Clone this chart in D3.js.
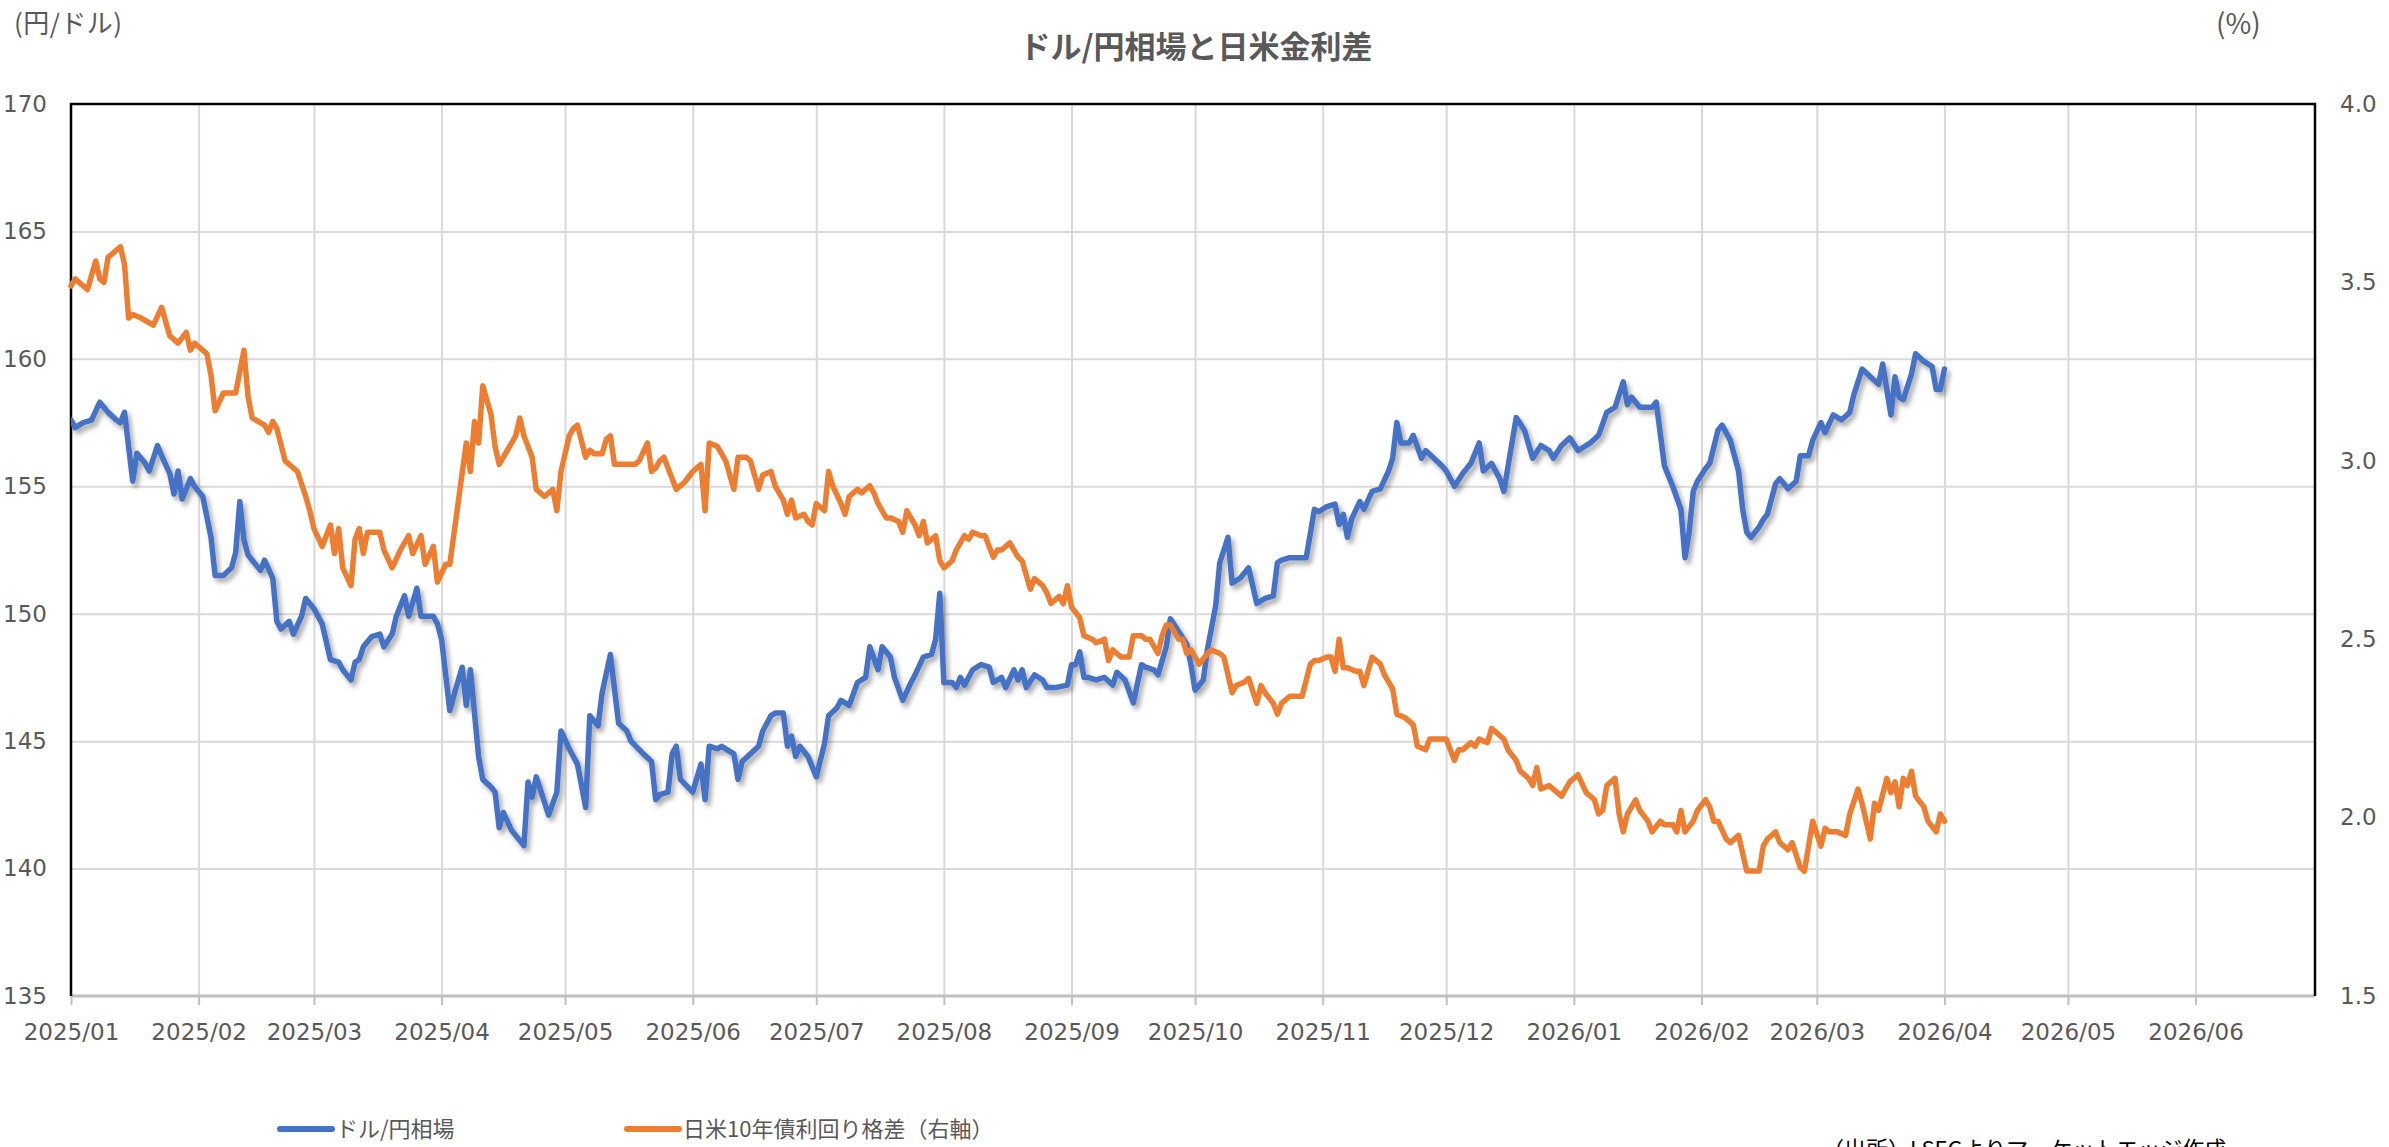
<!DOCTYPE html>
<html>
<head>
<meta charset="utf-8">
<script src="https://cdn.jsdelivr.net/npm/d3@7"></script>
<style>
  html, body { margin: 0; padding: 0; background: #fff; overflow: hidden; }
  svg { display: block; }
</style>
</head>
<body>
<div id="chart"></div>
<script>
"use strict";
const W = 2389, H = 1147; // px
const margin = {top: 104, right: 74, bottom: 151, left: 71}; // px

const TITLE = "ドル/円相場と日米金利差";
const LEFT_UNIT = "(円/ドル)";
const RIGHT_UNIT = "(%)";
const SERIES_NAMES = ["ドル/円相場", "日米10年債利回り格差（右軸）"];
const SOURCE = "（出所）LSEGよりマーケットエッジ作成";

const leftTicks = [135, 140, 145, 150, 155, 160, 165, 170];
const rightTicks = [1.5, 2.0, 2.5, 3.0, 3.5, 4.0];
const xStart = "2025-01-01", xEnd = "2026-06-30";

// ドル/円相場
const usdDates = [
  "2025-01-01","2025-01-02","2025-01-04","2025-01-06","2025-01-08","2025-01-10","2025-01-12","2025-01-13","2025-01-14","2025-01-16",
  "2025-01-17","2025-01-19","2025-01-20","2025-01-22","2025-01-23","2025-01-25","2025-01-26","2025-01-27","2025-01-28","2025-01-30",
  "2025-01-31","2025-02-02","2025-02-04","2025-02-05","2025-02-07","2025-02-09","2025-02-10","2025-02-11","2025-02-12","2025-02-13",
  "2025-02-16","2025-02-17","2025-02-19","2025-02-20","2025-02-21","2025-02-23","2025-02-24","2025-02-26","2025-02-27","2025-03-01",
  "2025-03-03","2025-03-05","2025-03-07","2025-03-08","2025-03-10","2025-03-11","2025-03-12","2025-03-13","2025-03-15","2025-03-17",
  "2025-03-18","2025-03-20","2025-03-21","2025-03-23","2025-03-24","2025-03-26","2025-03-27","2025-03-30","2025-03-31","2025-04-01",
  "2025-04-03","2025-04-04","2025-04-06","2025-04-07","2025-04-08","2025-04-10","2025-04-11","2025-04-13","2025-04-14","2025-04-15",
  "2025-04-16","2025-04-18","2025-04-21","2025-04-22","2025-04-23","2025-04-24","2025-04-25","2025-04-27","2025-04-29","2025-04-30",
  "2025-05-02","2025-05-04","2025-05-06","2025-05-07","2025-05-09","2025-05-10","2025-05-12","2025-05-14","2025-05-16","2025-05-17",
  "2025-05-20","2025-05-22","2025-05-23","2025-05-24","2025-05-26","2025-05-27","2025-05-28","2025-05-29","2025-06-01","2025-06-03",
  "2025-06-04","2025-06-05","2025-06-07","2025-06-08","2025-06-09","2025-06-11","2025-06-12","2025-06-13","2025-06-15","2025-06-17",
  "2025-06-18","2025-06-20","2025-06-21","2025-06-23","2025-06-24","2025-06-25","2025-06-26","2025-06-27","2025-06-29","2025-07-01",
  "2025-07-03","2025-07-04","2025-07-06","2025-07-07","2025-07-09","2025-07-11","2025-07-13","2025-07-14","2025-07-16","2025-07-17",
  "2025-07-19","2025-07-20","2025-07-22","2025-07-24","2025-07-25","2025-07-27","2025-07-29","2025-07-30","2025-07-31","2025-08-01",
  "2025-08-03","2025-08-04","2025-08-05","2025-08-06","2025-08-08","2025-08-10","2025-08-12","2025-08-13","2025-08-15","2025-08-16",
  "2025-08-18","2025-08-19","2025-08-20","2025-08-21","2025-08-23","2025-08-25","2025-08-26","2025-08-28","2025-08-31","2025-09-01",
  "2025-09-02","2025-09-03","2025-09-04","2025-09-05","2025-09-07","2025-09-09","2025-09-11","2025-09-12","2025-09-14","2025-09-16",
  "2025-09-18","2025-09-19","2025-09-21","2025-09-22","2025-09-24","2025-09-25","2025-09-27","2025-09-29","2025-09-30","2025-10-01",
  "2025-10-03","2025-10-04","2025-10-06","2025-10-07","2025-10-09","2025-10-10","2025-10-12","2025-10-14","2025-10-16","2025-10-18",
  "2025-10-20","2025-10-21","2025-10-22","2025-10-24","2025-10-27","2025-10-28","2025-10-30","2025-10-31","2025-11-02","2025-11-04",
  "2025-11-05","2025-11-06","2025-11-07","2025-11-08","2025-11-10","2025-11-11","2025-11-13","2025-11-15","2025-11-17","2025-11-18",
  "2025-11-19","2025-11-20","2025-11-22","2025-11-23","2025-11-25","2025-11-26","2025-11-28","2025-11-30","2025-12-01","2025-12-03",
  "2025-12-05","2025-12-07","2025-12-09","2025-12-10","2025-12-12","2025-12-14","2025-12-15","2025-12-18","2025-12-20","2025-12-22",
  "2025-12-24","2025-12-26","2025-12-27","2025-12-29","2025-12-31","2026-01-02","2026-01-05","2026-01-07","2026-01-09","2026-01-11",
  "2026-01-13","2026-01-14","2026-01-15","2026-01-17","2026-01-20","2026-01-21","2026-01-23","2026-01-25","2026-01-27","2026-01-28",
  "2026-01-29","2026-01-30","2026-01-31","2026-02-02","2026-02-03","2026-02-05","2026-02-06","2026-02-08","2026-02-10","2026-02-11",
  "2026-02-12","2026-02-13","2026-02-15","2026-02-16","2026-02-17","2026-02-19","2026-02-20","2026-02-22","2026-02-24","2026-02-25",
  "2026-02-27","2026-02-28","2026-03-02","2026-03-03","2026-03-05","2026-03-07","2026-03-09","2026-03-10","2026-03-12","2026-03-14",
  "2026-03-16","2026-03-17","2026-03-19","2026-03-20","2026-03-21","2026-03-22","2026-03-24","2026-03-25","2026-03-27","2026-03-29",
  "2026-03-30","2026-03-31","2026-04-01"
];
const usdValues = [
  157.6,157.3,157.5,157.6,158.3,157.9,157.6,157.5,157.9,155.2,
  156.3,155.9,155.6,156.6,156.2,155.5,154.7,155.6,154.5,155.3,
  155.0,154.6,153.0,151.5,151.5,151.8,152.4,154.4,152.9,152.3,
  151.7,152.1,151.4,149.7,149.4,149.7,149.2,149.9,150.6,150.2,
  149.6,148.2,148.1,147.8,147.4,148.1,148.2,148.7,149.1,149.2,
  148.7,149.2,149.9,150.7,149.9,151.0,149.9,149.9,149.6,149.0,
  146.2,146.8,147.9,146.4,147.8,144.4,143.5,143.2,143.0,141.6,
  142.2,141.5,140.9,143.4,142.8,143.6,143.1,142.1,143.0,145.4,
  144.7,144.1,142.4,146.0,145.6,146.9,148.4,145.7,145.4,145.0,
  144.5,144.2,142.7,142.9,143.0,144.5,144.8,143.5,143.0,144.1,
  142.7,144.8,144.7,144.8,144.7,144.5,143.5,144.2,144.5,144.8,
  145.4,146.0,146.1,146.1,144.8,145.2,144.4,144.8,144.4,143.6,
  144.9,146.0,146.3,146.6,146.4,147.3,147.5,148.7,147.8,148.7,
  148.3,147.5,146.6,147.3,147.6,148.3,148.4,149.0,150.8,147.3,
  147.3,147.1,147.5,147.2,147.8,148.0,147.9,147.3,147.5,147.1,
  147.8,147.4,147.8,147.1,147.6,147.4,147.1,147.1,147.2,148.0,
  148.0,148.5,147.5,147.5,147.4,147.5,147.2,147.7,147.4,146.5,
  148.0,147.9,147.8,147.6,148.7,149.8,149.3,148.8,148.0,147.0,
  147.4,148.6,150.3,152.0,153.0,151.2,151.4,151.8,150.4,150.6,
  150.7,152.0,152.1,152.2,152.2,152.2,154.1,154.0,154.2,154.3,
  153.5,153.9,153.0,153.7,154.4,154.1,154.8,154.9,155.6,156.1,
  157.5,156.7,156.7,157.0,156.1,156.4,156.1,155.8,155.6,155.0,
  155.5,155.9,156.7,155.6,155.9,155.3,154.8,157.7,157.2,156.1,
  156.6,156.4,156.1,156.6,156.9,156.4,156.7,157.0,157.9,158.1,
  159.1,158.2,158.5,158.1,158.1,158.3,155.8,155.0,154.1,152.2,
  153.2,154.8,155.2,155.7,155.9,157.2,157.4,156.8,155.6,154.1,
  153.2,153.0,153.4,153.7,153.9,155.1,155.3,154.9,155.2,156.2,
  156.2,156.8,157.5,157.1,157.8,157.6,157.9,158.6,159.6,159.3,
  159.0,159.8,157.8,159.3,158.5,158.4,159.4,160.2,159.9,159.7,
  158.8,158.8,159.6
];

// 日米10年債利回り格差（右軸）
const spreadDates = [
  "2025-01-01","2025-01-02","2025-01-05","2025-01-07","2025-01-08","2025-01-09","2025-01-10","2025-01-13","2025-01-14","2025-01-15",
  "2025-01-16","2025-01-18","2025-01-21","2025-01-23","2025-01-25","2025-01-27","2025-01-29","2025-01-30","2025-01-31","2025-02-03",
  "2025-02-04","2025-02-05","2025-02-07","2025-02-10","2025-02-12","2025-02-13","2025-02-14","2025-02-17","2025-02-18","2025-02-19",
  "2025-02-20","2025-02-22","2025-02-25","2025-02-27","2025-02-28","2025-03-01","2025-03-03","2025-03-05","2025-03-06","2025-03-07",
  "2025-03-08","2025-03-10","2025-03-11","2025-03-12","2025-03-13","2025-03-14","2025-03-17","2025-03-18","2025-03-20","2025-03-22",
  "2025-03-24","2025-03-25","2025-03-27","2025-03-28","2025-03-30","2025-03-31","2025-04-02","2025-04-03","2025-04-05","2025-04-07",
  "2025-04-08","2025-04-09","2025-04-10","2025-04-11","2025-04-13","2025-04-14","2025-04-15","2025-04-17","2025-04-19","2025-04-20",
  "2025-04-21","2025-04-23","2025-04-24","2025-04-26","2025-04-28","2025-04-29","2025-04-30","2025-05-02","2025-05-03","2025-05-04",
  "2025-05-06","2025-05-07","2025-05-08","2025-05-10","2025-05-11","2025-05-12","2025-05-13","2025-05-16","2025-05-18","2025-05-19",
  "2025-05-21","2025-05-22","2025-05-23","2025-05-24","2025-05-25","2025-05-27","2025-05-28","2025-05-30","2025-06-01","2025-06-03",
  "2025-06-04","2025-06-05","2025-06-07","2025-06-08","2025-06-09","2025-06-11","2025-06-12","2025-06-14","2025-06-15","2025-06-17",
  "2025-06-18","2025-06-20","2025-06-21","2025-06-23","2025-06-24","2025-06-25","2025-06-26","2025-06-28","2025-06-29","2025-06-30",
  "2025-07-01","2025-07-03","2025-07-04","2025-07-05","2025-07-07","2025-07-08","2025-07-09","2025-07-11","2025-07-12","2025-07-14",
  "2025-07-15","2025-07-16","2025-07-18","2025-07-19","2025-07-21","2025-07-22","2025-07-23","2025-07-25","2025-07-26","2025-07-27",
  "2025-07-28","2025-07-30","2025-07-31","2025-08-01","2025-08-03","2025-08-04","2025-08-06","2025-08-07","2025-08-08","2025-08-10",
  "2025-08-11","2025-08-13","2025-08-14","2025-08-15","2025-08-17","2025-08-19","2025-08-20","2025-08-22","2025-08-23","2025-08-25",
  "2025-08-26","2025-08-27","2025-08-29","2025-08-30","2025-08-31","2025-09-01","2025-09-03","2025-09-04","2025-09-06","2025-09-07",
  "2025-09-09","2025-09-10","2025-09-11","2025-09-13","2025-09-15","2025-09-16","2025-09-18","2025-09-19","2025-09-20","2025-09-22",
  "2025-09-23","2025-09-24","2025-09-25","2025-09-27","2025-09-28","2025-09-29","2025-09-30","2025-10-02","2025-10-04","2025-10-05",
  "2025-10-07","2025-10-08","2025-10-10","2025-10-11","2025-10-13","2025-10-14","2025-10-16","2025-10-17","2025-10-18","2025-10-20",
  "2025-10-21","2025-10-22","2025-10-24","2025-10-26","2025-10-27","2025-10-29","2025-10-30","2025-10-31","2025-11-02","2025-11-03",
  "2025-11-04","2025-11-05","2025-11-06","2025-11-07","2025-11-09","2025-11-10","2025-11-11","2025-11-13","2025-11-15","2025-11-16",
  "2025-11-18","2025-11-19","2025-11-21","2025-11-23","2025-11-24","2025-11-26","2025-11-27","2025-11-29","2025-12-01","2025-12-03",
  "2025-12-04","2025-12-05","2025-12-07","2025-12-08","2025-12-09","2025-12-11","2025-12-12","2025-12-14","2025-12-15","2025-12-16",
  "2025-12-18","2025-12-19","2025-12-21","2025-12-22","2025-12-23","2025-12-24","2025-12-26","2025-12-27","2025-12-29","2025-12-31",
  "2026-01-02","2026-01-04","2026-01-06","2026-01-07","2026-01-08","2026-01-09","2026-01-10","2026-01-11","2026-01-12","2026-01-13",
  "2026-01-14","2026-01-16","2026-01-17","2026-01-19","2026-01-20","2026-01-22","2026-01-23","2026-01-25","2026-01-26","2026-01-27",
  "2026-01-28","2026-01-30","2026-01-31","2026-02-02","2026-02-03","2026-02-04","2026-02-05","2026-02-07","2026-02-08","2026-02-10",
  "2026-02-11","2026-02-12","2026-02-13","2026-02-15","2026-02-16","2026-02-17","2026-02-19","2026-02-20","2026-02-22","2026-02-23",
  "2026-02-25","2026-02-26","2026-02-27","2026-02-28","2026-03-02","2026-03-03","2026-03-04","2026-03-06","2026-03-08","2026-03-09",
  "2026-03-11","2026-03-12","2026-03-13","2026-03-14","2026-03-15","2026-03-16","2026-03-18","2026-03-19","2026-03-20","2026-03-21",
  "2026-03-22","2026-03-23","2026-03-24","2026-03-25","2026-03-27","2026-03-28","2026-03-30","2026-03-31","2026-04-01"
];
const spreadValues = [
  3.49,3.51,3.48,3.56,3.51,3.50,3.57,3.60,3.55,3.40,
  3.41,3.40,3.38,3.43,3.35,3.33,3.36,3.31,3.33,3.30,
  3.24,3.14,3.19,3.19,3.31,3.18,3.12,3.10,3.08,3.11,
  3.09,3.00,2.97,2.90,2.86,2.81,2.76,2.82,2.74,2.81,
  2.70,2.65,2.78,2.81,2.74,2.80,2.80,2.75,2.70,2.75,
  2.79,2.74,2.79,2.71,2.76,2.66,2.71,2.71,2.88,3.05,
  2.97,3.11,3.05,3.21,3.13,3.04,2.99,3.03,3.07,3.12,
  3.07,3.01,2.92,2.90,2.92,2.86,2.97,3.07,3.09,3.10,
  3.01,3.03,3.02,3.02,3.06,3.07,2.99,2.99,2.99,3.00,
  3.05,2.97,2.98,3.00,3.01,2.95,2.92,2.94,2.97,2.99,
  2.86,3.05,3.04,3.02,3.00,2.92,3.01,3.01,3.00,2.92,
  2.96,2.97,2.93,2.89,2.85,2.89,2.84,2.85,2.83,2.82,
  2.88,2.86,2.97,2.93,2.88,2.85,2.90,2.92,2.91,2.93,
  2.91,2.88,2.84,2.84,2.83,2.80,2.86,2.82,2.79,2.83,
  2.77,2.79,2.72,2.70,2.72,2.75,2.79,2.78,2.80,2.79,
  2.79,2.73,2.75,2.75,2.77,2.73,2.72,2.64,2.67,2.65,
  2.63,2.60,2.62,2.60,2.65,2.59,2.56,2.51,2.50,2.49,
  2.50,2.44,2.47,2.45,2.45,2.51,2.51,2.50,2.50,2.46,
  2.51,2.54,2.54,2.50,2.50,2.46,2.47,2.43,2.46,2.47,
  2.46,2.45,2.35,2.37,2.38,2.39,2.32,2.37,2.35,2.32,
  2.29,2.32,2.34,2.34,2.34,2.43,2.44,2.44,2.45,2.45,
  2.41,2.50,2.42,2.42,2.41,2.41,2.37,2.45,2.43,2.40,
  2.36,2.29,2.28,2.26,2.20,2.19,2.22,2.22,2.22,2.16,
  2.19,2.19,2.21,2.20,2.22,2.21,2.25,2.23,2.22,2.19,
  2.16,2.13,2.11,2.09,2.14,2.08,2.09,2.08,2.06,2.10,
  2.12,2.07,2.05,2.01,2.02,2.09,2.10,2.11,2.01,1.96,
  2.01,2.05,2.02,1.99,1.96,1.99,1.98,1.98,1.96,2.02,
  1.96,1.99,2.02,2.05,2.03,1.99,1.99,1.94,1.93,1.95,
  1.90,1.85,1.85,1.85,1.92,1.94,1.96,1.93,1.91,1.93,
  1.86,1.85,1.92,1.99,1.92,1.97,1.96,1.96,1.95,2.01,
  2.08,2.04,1.99,1.94,2.04,2.02,2.11,2.07,2.10,2.03,
  2.11,2.09,2.13,2.06,2.03,1.99,1.96,2.01,1.99
];

const BLUE = "#4472C4", ORANGE = "#ED7D31";
const TEXT = "#595959", GRID = "#D9D9D9";
const NUM_FONT = "'DejaVu Sans', Verdana, sans-serif";
const JP_FONT = "'Noto Sans CJK JP', 'Noto Sans', sans-serif";

const parse = d3.timeParse("%Y-%m-%d");
const width = W - margin.left - margin.right;
const height = H - margin.top - margin.bottom;

const x = d3.scaleTime().domain([parse(xStart), parse(xEnd)]).range([0, width]);
const yL = d3.scaleLinear().domain([135, 170]).range([height, 0]);
const yR = d3.scaleLinear().domain([1.5, 4.0]).range([height, 0]);

const usd = usdDates.map((d, i) => ({date: parse(d), value: usdValues[i]}));
const spread = spreadDates.map((d, i) => ({date: parse(d), value: spreadValues[i]}));

const svg = d3.select("#chart")
    .append("svg")
    .attr("width", W)
    .attr("height", H);

svg.append("rect").attr("width", W).attr("height", H).attr("fill", "#fff");

const defs = svg.append("defs");
defs.append("filter")
    .attr("id", "shadow")
    .attr("filterUnits", "userSpaceOnUse")
    .attr("x", 0).attr("y", 0).attr("width", W).attr("height", H)
    .append("feDropShadow")
    .attr("dx", 3).attr("dy", 4)
    .attr("stdDeviation", 2.5)
    .attr("flood-color", "#000")
    .attr("flood-opacity", 0.35);

const g = svg.append("g").attr("transform", `translate(${margin.left},${margin.top})`);

const months = x.ticks(d3.timeMonth.every(1));

// grid lines
g.append("g")
    .call(d3.axisLeft(yL).tickValues(leftTicks.slice(1, -1)).tickSize(-width).tickFormat(""))
    .call((s) => s.select(".domain").remove())
    .call((s) => s.selectAll("line").attr("stroke", GRID).attr("stroke-width", 2));

g.append("g")
    .call(d3.axisBottom(x).tickValues(months.slice(1)).tickSize(height).tickFormat(""))
    .call((s) => s.select(".domain").remove())
    .call((s) => s.selectAll("line").attr("stroke", GRID).attr("stroke-width", 2));

// bottom axis with labels
g.append("g")
    .attr("transform", `translate(0,${height})`)
    .call(d3.axisBottom(x).tickValues(months).tickSize(9).tickPadding(19).tickFormat(d3.timeFormat("%Y/%m")))
    .call((s) => s.select(".domain").remove())
    .call((s) => s.selectAll("line").attr("stroke", "#BFBFBF").attr("stroke-width", 2))
    .call((s) => s.selectAll("text").attr("fill", TEXT).style("font", `23px ${NUM_FONT}`));

g.append("line")
    .attr("x1", 0).attr("x2", width)
    .attr("y1", height).attr("y2", height)
    .attr("stroke", "#BFBFBF").attr("stroke-width", 3);

// left and right value axes
g.append("g")
    .call(d3.axisLeft(yL).tickValues(leftTicks).tickSize(0).tickPadding(24))
    .call((s) => s.select(".domain").remove())
    .call((s) => s.selectAll("text").attr("fill", TEXT).style("font", `23px ${NUM_FONT}`));

g.append("g")
    .attr("transform", `translate(${width},0)`)
    .call(d3.axisRight(yR).tickValues(rightTicks).tickSize(0).tickPadding(25).tickFormat(d3.format(".1f")))
    .call((s) => s.select(".domain").remove())
    .call((s) => s.selectAll("text").attr("fill", TEXT).style("font", `23px ${NUM_FONT}`));

// plot frame: top, left, right in black
g.append("path")
    .attr("d", `M0,${height}V0H${width}V${height}`)
    .attr("fill", "none")
    .attr("stroke", "#000")
    .attr("stroke-width", 2.5);

// series
const lineL = d3.line().x((d) => x(d.date)).y((d) => yL(d.value));
const lineR = d3.line().x((d) => x(d.date)).y((d) => yR(d.value));

g.append("path")
    .datum(usd)
    .attr("d", lineL)
    .attr("fill", "none")
    .attr("stroke", BLUE)
    .attr("stroke-width", 5.5)
    .attr("stroke-linejoin", "round")
    .attr("stroke-linecap", "round")
    .attr("filter", "url(#shadow)");

g.append("path")
    .datum(spread)
    .attr("d", lineR)
    .attr("fill", "none")
    .attr("stroke", ORANGE)
    .attr("stroke-width", 5.5)
    .attr("stroke-linejoin", "round")
    .attr("stroke-linecap", "round");

// title and units
svg.append("text")
    .attr("x", 1196).attr("y", 47).attr("dy", "0.35em")
    .attr("text-anchor", "middle")
    .attr("fill", TEXT)
    .style("font", `bold 31px ${JP_FONT}`)
    .text(TITLE);

svg.append("text")
    .attr("x", 14).attr("y", 24).attr("dy", "0.35em")
    .attr("fill", TEXT)
    .style("font", `26px ${JP_FONT}`)
    .attr("textLength", 108)
    .text(LEFT_UNIT);

svg.append("text")
    .attr("x", 2216).attr("y", 24).attr("dy", "0.35em")
    .attr("fill", TEXT)
    .style("font", `28px ${JP_FONT}`)
    .text(RIGHT_UNIT);

// legend
const legend = svg.append("g").selectAll("g")
    .data([{name: SERIES_NAMES[0], color: BLUE, x: 280}, {name: SERIES_NAMES[1], color: ORANGE, x: 627}])
    .join("g")
    .attr("transform", (d) => `translate(${d.x},1129)`);

legend.append("line")
    .attr("x1", 0).attr("x2", 52)
    .attr("stroke", (d) => d.color)
    .attr("stroke-width", 6)
    .attr("stroke-linecap", "round");

legend.append("text")
    .attr("x", 56).attr("dy", "0.35em")
    .attr("fill", TEXT)
    .style("font", `22px ${JP_FONT}`)
    .text((d) => d.name);

// source note (partly cut by the bottom edge, as in the original)
svg.append("text")
    .attr("x", 1822).attr("y", 1157)
    .attr("fill", "#000")
    .style("font", `22px ${JP_FONT}`)
    .text(SOURCE);
</script>
</body>
</html>
